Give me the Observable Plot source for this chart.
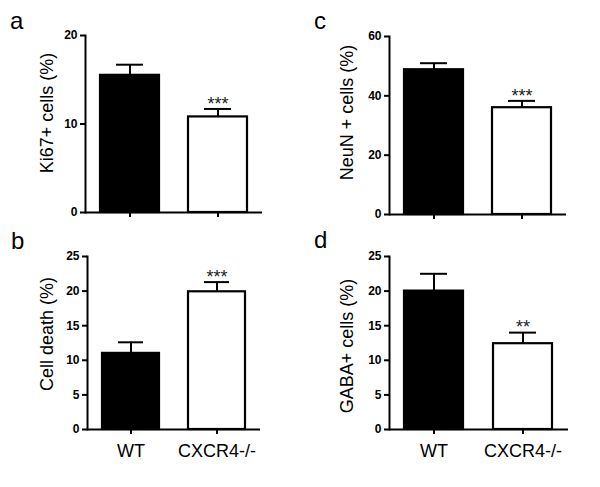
<!DOCTYPE html>
<html>
<head>
<meta charset="utf-8">
<script src="https://cdn.jsdelivr.net/npm/d3@7"></script>
<script src="https://cdn.jsdelivr.net/npm/@observablehq/plot@0.6"></script>
<style>
  body { margin: 0; background: #fff; font-family: Arial, "Liberation Sans", sans-serif; }
  #fig { position: relative; width: 600px; height: 487px; background: #fff; }
  .panel { position: absolute; }
  .letter { position: absolute; font-size: 24px; line-height: 24px; color: #000; }
  g[aria-label="significance"] text { letter-spacing: 2px; }
  g[aria-label="y-axis tick label"], g[aria-label="y-axis tick label"] text { font-weight: 700 !important; font-size: 12px; fill: #000; }
</style>
</head>
<body>
<div id="fig"></div>
<script>
// Data
const groups = ["WT", "CXCR4-/-"];
const barFill = ["#000000", "#ffffff"];

const ki67Mean = [15.5, 10.8];
const ki67Err = [1.2, 0.9];
const ki67Sig = ["", "***"];

const neunMean = [48.8, 36.0];
const neunErr = [2.2, 2.3];
const neunSig = ["", "***"];

const deathMean = [11.0, 19.9];
const deathErr = [1.6, 1.4];
const deathSig = ["", "***"];

const gabaMean = [20.0, 12.4];
const gabaErr = [2.5, 1.6];
const gabaSig = ["", "**"];

const ticksPct20 = [0, 10, 20];
const ticksPct60 = [0, 20, 40, 60];
const ticksPct25 = [0, 5, 10, 15, 20, 25];

function rows(means, errs, sigs) {
  return groups.map((g, i) => ({g, m: means[i], e: errs[i], s: sigs[i], fill: barFill[i]}));
}

function panel(opts) {
  const data = rows(opts.means, opts.errs, opts.sigs);
  return Plot.plot({
    width: 300,
    height: opts.height,
    marginLeft: opts.ml, marginRight: opts.mr, marginTop: opts.mt, marginBottom: opts.mb,
    style: {fontFamily: "Arial, 'Liberation Sans', sans-serif", fontSize: "12px", background: "#fff", color: "#000"},
    x: {domain: groups, paddingInner: 1/3, paddingOuter: 1/6},
    y: {domain: opts.yDomain},
    color: {type: "identity"},
    marks: [
      Plot.barY(data, {x: "g", y: "m", fill: "fill", stroke: "#000", strokeWidth: 2.2}),
      Plot.ruleX(data, {x: "g", y1: "m", y2: d => d.m + d.e, stroke: "#000", strokeWidth: 2}),
      Plot.tickY(data, {x: "g", y: d => d.m + d.e, stroke: "#000", strokeWidth: 2, insetLeft: 16, insetRight: 16}),
      Plot.text(data, {x: "g", y: d => d.m + d.e, text: "s", dy: -5, fontSize: 18, fill: "#222", ariaLabel: "significance"}),
      Plot.ruleY([0], {stroke: "#000", strokeWidth: 2}),
      Plot.frame({anchor: "left", stroke: "#000", strokeWidth: 2}),
      Plot.axisY({ticks: opts.yTicks, tickSize: 5, tickPadding: 3, fontWeight: "bold", fontSize: 12, label: null, strokeWidth: 2}),
      Plot.axisX({tickSize: 5, tickPadding: 10, fontSize: 18, label: null, strokeWidth: 2,
        tickFormat: opts.showX ? (d => d) : (() => "")}),
      Plot.text([opts.yLabel], {frameAnchor: "left", rotate: -90, textAnchor: "middle", dx: opts.ldx, dy: opts.ldy, fontSize: 18, fill: "#000"})
    ]
  });
}

const fig = document.getElementById("fig");
function place(node, left, top) {
  node.classList.add("panel");
  node.style.left = left + "px";
  node.style.top = top + "px";
  fig.appendChild(node);
}
function letter(t, left, top) {
  const d = document.createElement("div");
  d.className = "letter";
  d.textContent = t;
  d.style.left = left + "px";
  d.style.top = top + "px";
  fig.appendChild(d);
}

place(panel({means: ki67Mean, errs: ki67Err, sigs: ki67Sig, yLabel: "Ki67+ cells (%)", yDomain: [0, 20], yTicks: ticksPct20,
  height: 240, ml: 85, mr: 38, mt: 35, mb: 28, showX: false, ldx: -38, ldy: -11}), 0, 0);
place(panel({means: neunMean, errs: neunErr, sigs: neunSig, yLabel: "NeuN + cells (%)", yDomain: [0, 60], yTicks: ticksPct60,
  height: 240, ml: 89, mr: 34, mt: 36, mb: 26, showX: false, ldx: -42, ldy: -13}), 300, 0);
place(panel({means: deathMean, errs: deathErr, sigs: deathSig, yLabel: "Cell death (%)", yDomain: [0, 25], yTicks: ticksPct25,
  height: 247, ml: 87, mr: 40, mt: 16, mb: 58, showX: true, ldx: -40, ldy: -9}), 0, 240);
place(panel({means: gabaMean, errs: gabaErr, sigs: gabaSig, yLabel: "GABA+ cells (%)", yDomain: [0, 25], yTicks: ticksPct25,
  height: 247, ml: 89, mr: 32, mt: 16, mb: 58, showX: true, ldx: -42, ldy: 3}), 300, 240);

letter("a", 10, 9);
letter("c", 314, 9);
letter("b", 11, 229);
letter("d", 314, 228);
</script>
</body>
</html>
